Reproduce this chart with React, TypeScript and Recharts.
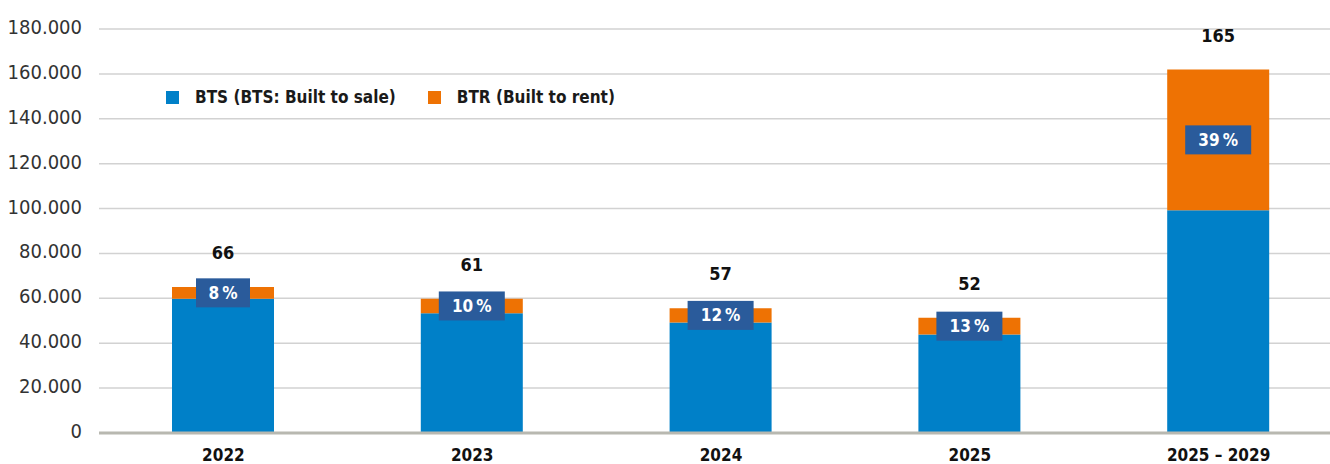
import { BarChart, Bar, XAxis, YAxis, CartesianGrid, Legend, LabelList } from 'recharts';

const categories = ['2022', '2023', '2024', '2025', '2025 – 2029'];
const btsValues = [59800, 53400, 49200, 43900, 99300];
const btrValues = [5300, 6400, 6400, 7400, 62600];
const totalLabels = [66, 61, 57, 52, 165];
const btrShares = [8, 10, 12, 13, 39];
const yTicks = [0, 20000, 40000, 60000, 80000, 100000, 120000, 140000, 160000, 180000];

const BTS_COLOR = '#0080c8';
const BTR_COLOR = '#ee7203';
const BOX_COLOR = '#2a5b9b';
const FONT = "'DejaVu Sans Condensed', 'DejaVu Sans', sans-serif";

const data = categories.map((name, i) => ({
  name,
  bts: btsValues[i],
  btr: btrValues[i],
  total: totalLabels[i],
  share: btrShares[i],
}));

function YTick({ x, y, payload }: any) {
  return (
    <text
      x={x}
      y={y + 5}
      textAnchor="end"
      fill="#333"
      fontFamily={FONT}
      fontStretch="condensed"
      fontSize={20}
    >
      {payload.value.toLocaleString('de-DE')}
    </text>
  );
}

function XTick({ x, y, payload }: any) {
  return (
    <text
      x={x}
      y={y + 28}
      textAnchor="middle"
      fill="#111"
      fontFamily={FONT}
      fontStretch="condensed"
      fontWeight="bold"
      fontSize={17}
    >
      {payload.value}
    </text>
  );
}

function TotalLabel({ x, y, width, value }: any) {
  return (
    <text
      x={x + width / 2}
      y={y - 28}
      textAnchor="middle"
      fill="#111"
      fontFamily={FONT}
      fontStretch="condensed"
      fontWeight="bold"
      fontSize={18}
    >
      {value}
    </text>
  );
}

function ShareBox({ x, y, width, height, value }: any) {
  const cx = x + width / 2;
  const cy = y + height / 2;
  const boxW = 42 + 12 * String(value).length;
  const boxH = 29;
  return (
    <g>
      <rect x={cx - boxW / 2} y={cy - boxH / 2} width={boxW} height={boxH} fill={BOX_COLOR} />
      <text
        x={cx}
        y={cy + 6}
        textAnchor="middle"
        fill="#fff"
        fontFamily={FONT}
        fontStretch="condensed"
        fontWeight="bold"
        fontSize={17}
      >
        {`${value}\u2009%`}
      </text>
    </g>
  );
}

function LegendContent() {
  const items = [
    { label: 'BTS (BTS: Built to sale)', color: BTS_COLOR },
    { label: 'BTR (Built to rent)', color: BTR_COLOR },
  ];
  return (
    <div style={{ display: 'flex', alignItems: 'center', gap: 32 }}>
      {items.map((item) => (
        <div key={item.label} style={{ display: 'flex', alignItems: 'center', gap: 16 }}>
          <div style={{ width: 13, height: 13, background: item.color }} />
          <span
            style={{
              fontFamily: FONT,
              fontStretch: 'condensed',
              fontWeight: 'bold',
              fontSize: 17,
              color: '#1a1a1a',
              whiteSpace: 'nowrap',
            }}
          >
            {item.label}
          </span>
        </div>
      ))}
    </div>
  );
}

export default function App() {
  return (
    <div style={{ position: 'absolute', left: 0, top: 0, width: 1330, height: 464, overflow: 'hidden', background: '#fff' }}>
      <BarChart
        width={1343}
        height={464}
        data={data}
        margin={{ top: 29, right: 0, bottom: 0, left: 0 }}
        barSize={102}
      >
        <CartesianGrid vertical={false} stroke="#d2d2d2" strokeWidth={1.5} />
        <XAxis
          dataKey="name"
          height={31}
          tickLine={false}
          tickSize={0}
          tickMargin={0}
          axisLine={{ stroke: '#b8b8b0', strokeWidth: 3 }}
          tick={<XTick />}
          interval={0}
        />
        <YAxis
          width={99}
          domain={[0, 180000]}
          ticks={yTicks}
          axisLine={false}
          tickLine={false}
          tickSize={0}
          tickMargin={17}
          tick={<YTick />}
        />
        <Legend
          layout="horizontal"
          verticalAlign="middle"
          align="center"
          content={<LegendContent />}
          wrapperStyle={{ position: 'absolute', top: 87, left: 166, width: 'auto' }}
        />
        <Bar dataKey="bts" stackId="a" fill={BTS_COLOR} isAnimationActive={false} />
        <Bar dataKey="btr" stackId="a" fill={BTR_COLOR} isAnimationActive={false}>
          <LabelList dataKey="share" content={<ShareBox />} />
          <LabelList dataKey="total" content={<TotalLabel />} />
        </Bar>
      </BarChart>
    </div>
  );
}
